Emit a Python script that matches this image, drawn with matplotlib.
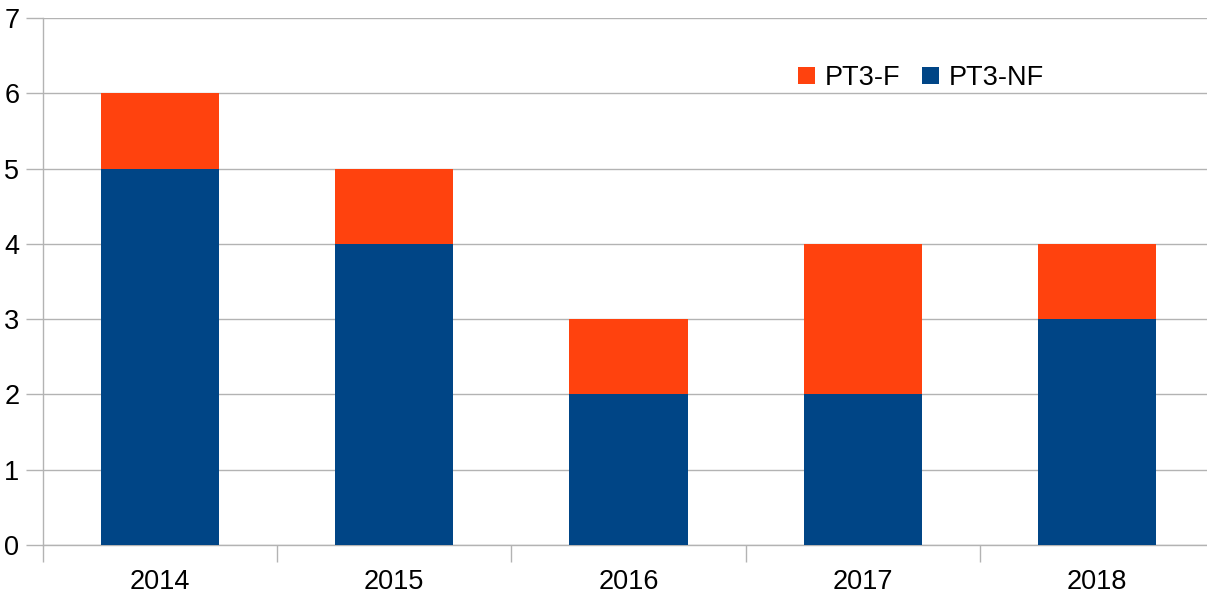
import numpy as np
import matplotlib.pyplot as plt

plt.rcParams['font.family'] = ['Liberation Sans', 'DejaVu Sans']

years = ['2014', '2015', '2016', '2017', '2018']
pt3_nf = [5, 4, 2, 2, 3]
pt3_f = [1, 1, 1, 2, 1]

blue = '#004586'
orange = '#ff420e'
grey = '#b3b3b3'

fig = plt.figure(figsize=(12.07, 5.94), dpi=100)
# chart is cropped on the right in the original, so the axes run past the edge
ax = fig.add_axes([43/1207, 49/594, 1171/1207, 527/594])

x = np.arange(len(years))
ax.bar(x, pt3_nf, width=0.504, color=blue, label='PT3-NF', zorder=3)
ax.bar(x, pt3_f, width=0.504, bottom=pt3_nf, color=orange, label='PT3-F', zorder=3)

ax.set_xlim(-0.5, len(years) - 0.5)
ax.set_ylim(0, 7)
ax.set_yticks(range(8))
ax.set_xticks(x)
ax.set_xticklabels(years)
ax.set_xticks(np.arange(-0.5, len(years)), minor=True)

ax.yaxis.grid(True, color=grey, linewidth=1, zorder=0)
for s in ['top', 'right']:
    ax.spines[s].set_visible(False)
for s in ['left', 'bottom']:
    ax.spines[s].set_color(grey)
    ax.spines[s].set_linewidth(1)

ax.tick_params(axis='y', length=12, width=1, color=grey, labelsize=19.5, pad=5)
ax.tick_params(axis='x', which='major', length=0, labelsize=19.5, pad=17)
ax.tick_params(axis='x', which='minor', length=12, width=1, color=grey)

h, l = ax.get_legend_handles_labels()
ax.legend(h[::-1], l[::-1], loc='center', bbox_to_anchor=(878/1171, 0.886), ncol=2,
          frameon=False, fontsize=19.5, handlelength=0.62, handleheight=0.62,
          handletextpad=0.35, columnspacing=0.8)

fig.savefig('out.png', dpi=100)
